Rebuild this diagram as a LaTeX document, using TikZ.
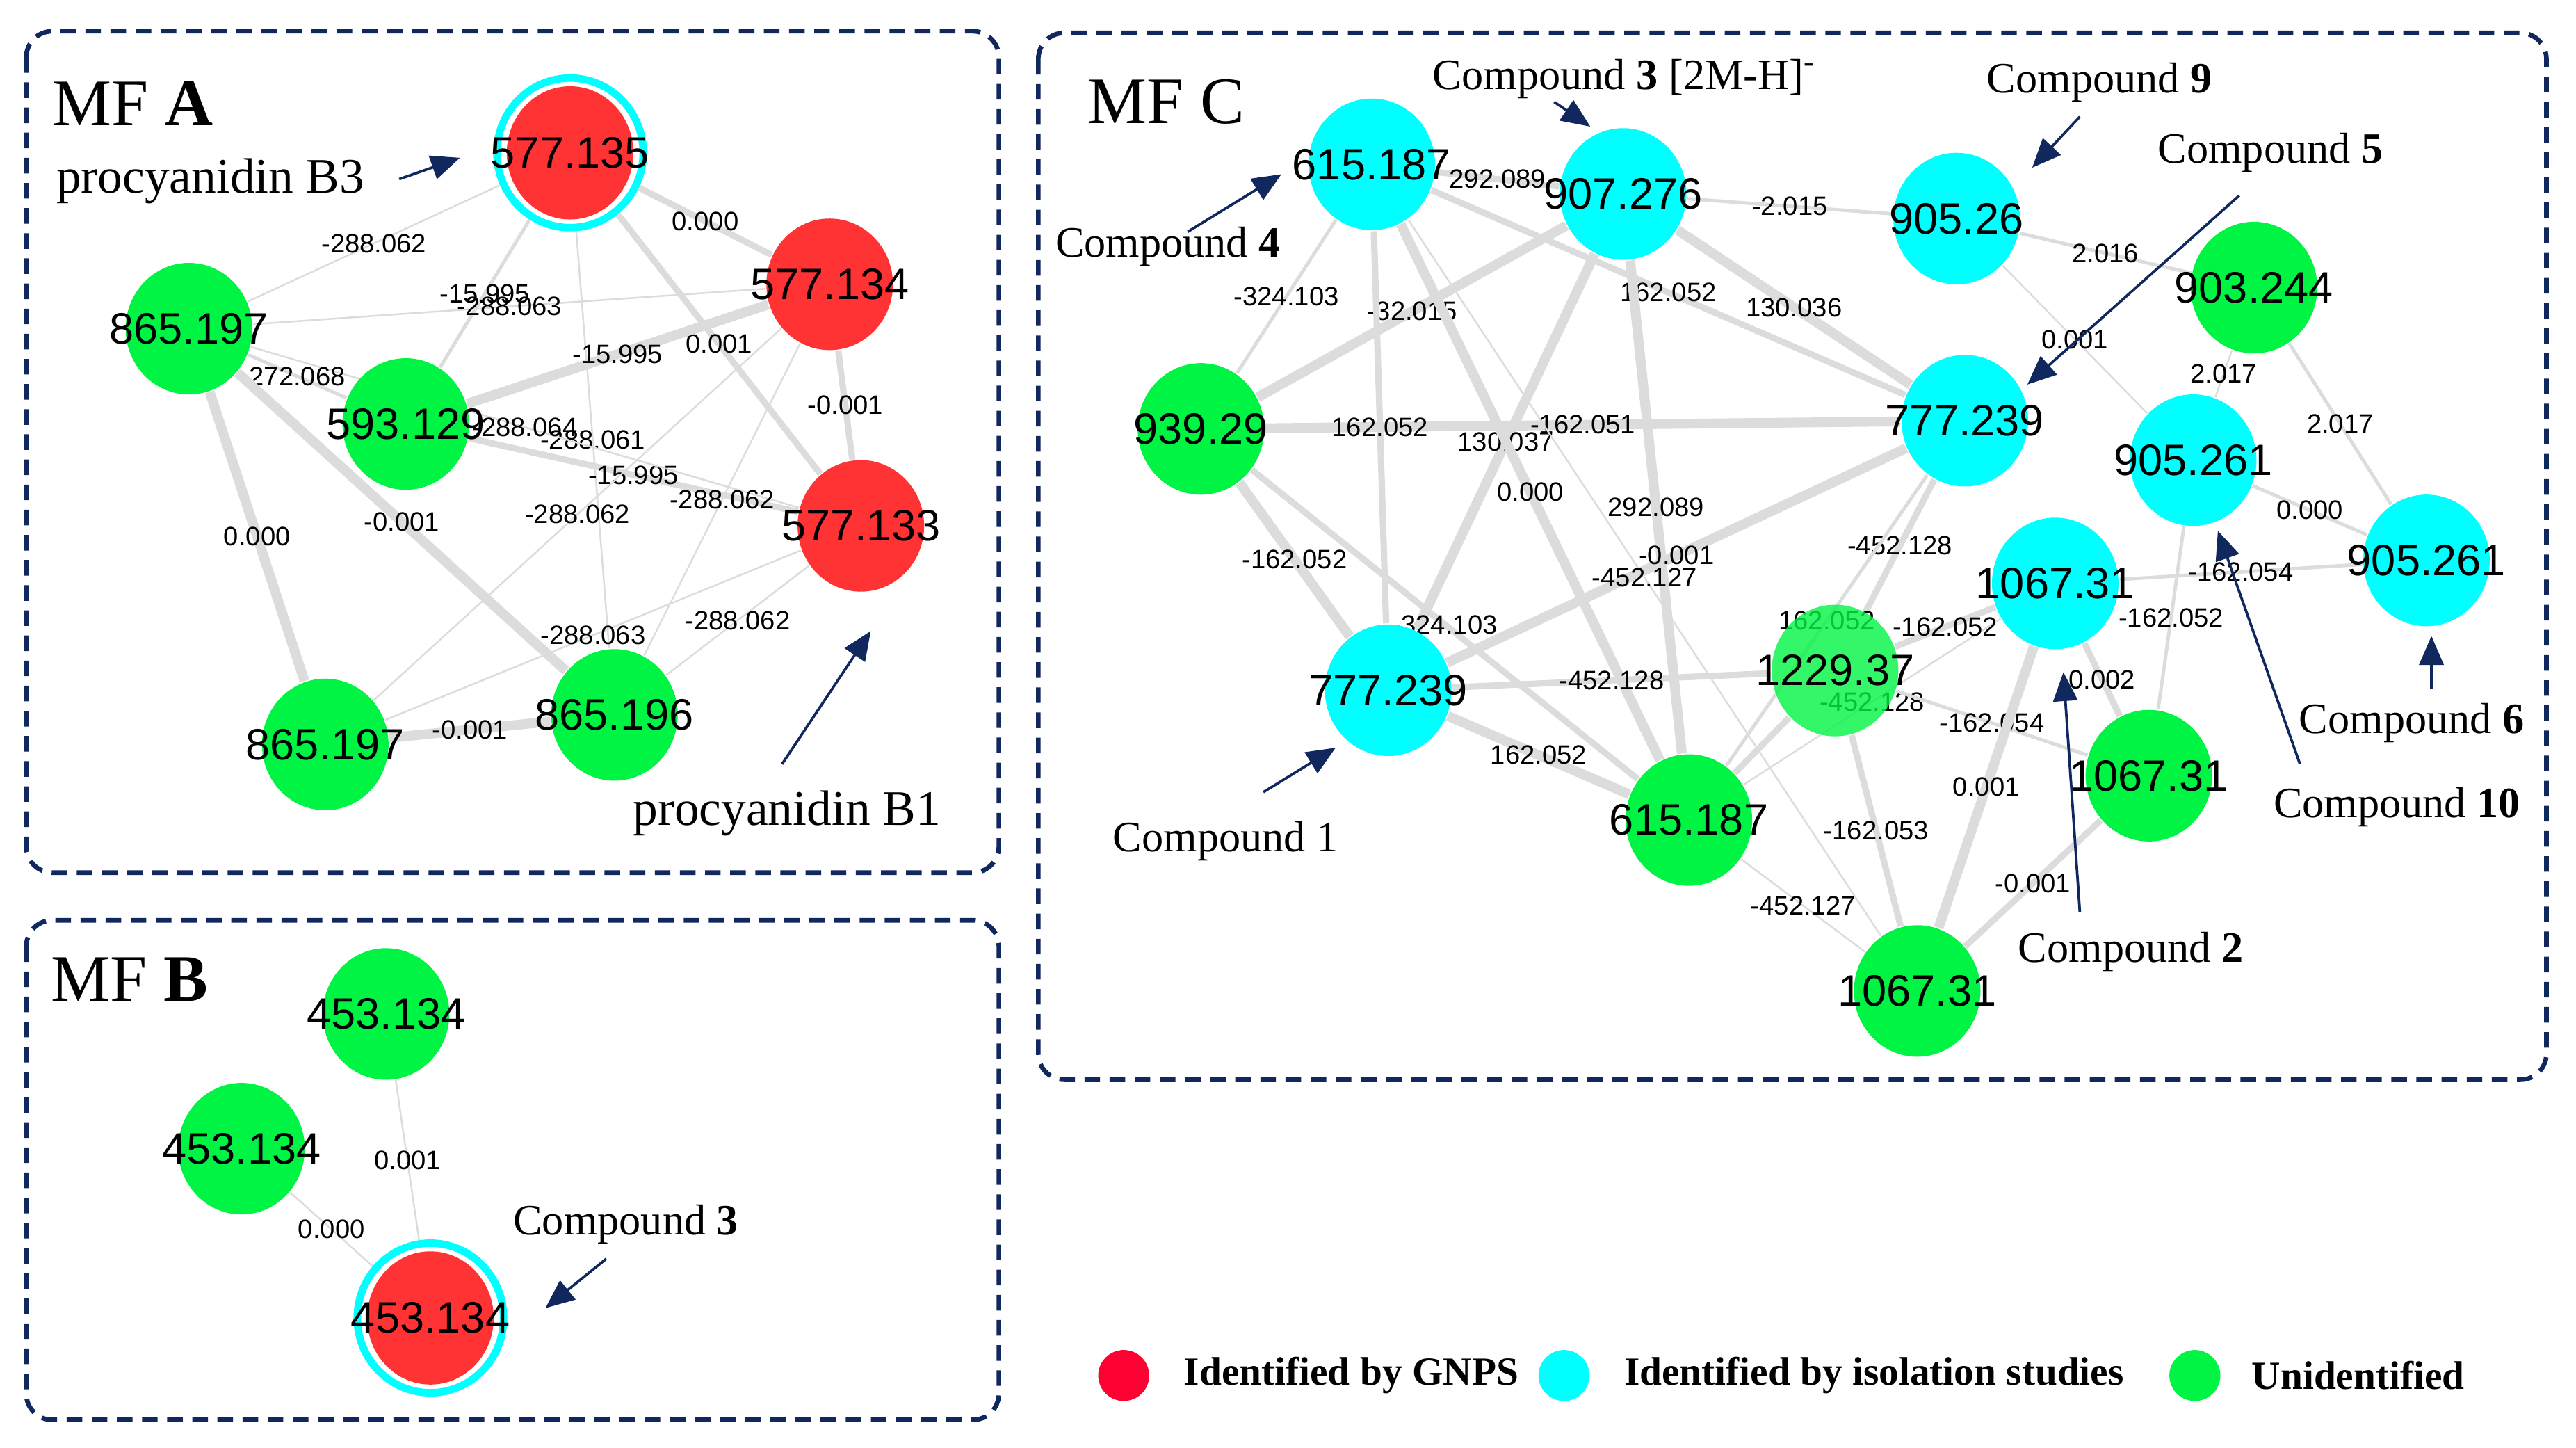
\documentclass[tikz,border=0pt]{standalone}
\usepackage{fontspec}
\setmainfont{Liberation Serif}
\newfontfamily\numfont{Liberation Sans}
\usetikzlibrary{shapes.geometric, arrows.meta, backgrounds}
\definecolor{GnpsRed}{HTML}{FF3333}
\definecolor{LegRed}{HTML}{FF0033}
\definecolor{IsoCyan}{HTML}{00FFFF}
\definecolor{UnidGreen}{HTML}{00F443}
\definecolor{EdgeGray}{HTML}{DCDCDC}
\definecolor{NavyDark}{HTML}{10285E}

\tikzset{
  mfnode/.style={ellipse, minimum width=0.77cm, minimum height=0.80cm, inner sep=0pt,
                 font=\numfont\fontsize{7.6}{8}\selectfont,
                 execute at begin node={\hbox to 0pt\bgroup\hss},
                 execute at end node={\hss\egroup}},
  unid/.style={mfnode, fill=UnidGreen},
  iso/.style={mfnode, fill=IsoCyan},
  gnps/.style={mfnode, fill=GnpsRed},
  gnpsiso/.style={mfnode, minimum width=0.89cm, minimum height=0.91cm,
                  draw=IsoCyan, line width=1.3pt, fill=white,
                  path picture={\fill[GnpsRed] (path picture bounding box.center)
                                ellipse [x radius=0.385cm, y radius=0.405cm];}},
  elabel/.style={font=\numfont\fontsize{4.6}{5}\selectfont, inner sep=0pt},
  linkhair/.style={draw=EdgeGray, line width=0.3pt},
  linkslim/.style={draw=EdgeGray, line width=0.6pt},
  linkbroad/.style={draw=EdgeGray, line width=1.1pt},
  linkheavy/.style={draw=EdgeGray, line width=1.7pt},
  pointer/.style={draw=NavyDark, line width=0.45pt, -{Triangle[length=5pt,width=4.2pt]}},
  cpdlabel/.style={font=\fontsize{7.5}{8}\selectfont, inner sep=0pt},
  pclabel/.style={font=\fontsize{8.6}{9}\selectfont, inner sep=0pt},
  mflabel/.style={font=\fontsize{11.5}{12}\selectfont, inner sep=0pt},
  mfframe/.style={draw=NavyDark, line width=0.8pt, dash pattern=on 2.7pt off 1.65pt,
                  rounded corners=4.5pt},
  legmark/.style={circle, minimum size=0.31cm, inner sep=0pt},
  legtext/.style={font=\bfseries\fontsize{6.9}{8}\selectfont, inner sep=0pt, anchor=west},
}

\begin{document}
\begin{tikzpicture}[x=0.01cm, y=-0.01cm]
\useasboundingbox (0,0) rectangle (1568,881);

% panel frames
\draw[mfframe] (16,19) rectangle (608,531);
\draw[mfframe] (16,560) rectangle (608,864);
\draw[mfframe] (632,20) rectangle (1550,657);

\node[mflabel] (mfA) at (81,63) {MF \textbf{A}};
\node[mflabel] (mfB) at (79,596) {MF \textbf{B}};
\node[mflabel] (mfC) at (710,62) {MF C};

% MF A
\node[gnpsiso] (a1) at (347,93) {577.135};
\node[gnps] (a2) at (505,173) {577.134};
\node[gnps] (a3) at (524,320) {577.133};
\node[unid] (a4) at (115,200) {865.197};
\node[unid] (a5) at (247,258) {593.129};
\node[unid] (a6) at (198,453) {865.197};
\node[unid] (a7) at (374,435) {865.196};

% MF B
\node[unid] (b1) at (235,617) {453.134};
\node[unid] (b2) at (147,699) {453.134};
\node[gnpsiso] (b3) at (262,802) {453.134};

% MF C
\node[iso] (c1) at (835,100) {615.187};
\node[iso] (c2) at (988,118) {907.276};
\node[iso] (c3) at (1191,133) {905.26};
\node[unid] (c4) at (1372,175) {903.244};
\node[unid] (c5) at (731,261) {939.29};
\node[iso] (c6) at (1196,256) {777.239};
\node[iso] (c7) at (1335,280) {905.261};
\node[iso] (c8) at (1477,341) {905.261};
\node[iso] (c9) at (1251,355) {1067.31};
\node[iso] (c10) at (845,420) {777.239};
\node[unid, fill opacity=0.8, text opacity=1] (c11) at (1117,408) {1229.37};
\node[unid] (c12) at (1028,499) {615.187};
\node[unid] (c13) at (1308,472) {1067.31};
\node[unid] (c14) at (1167,603) {1067.31};

\begin{pgfonlayer}{background}
  % MF A links
  \draw[linkbroad] (a1) -- node[elabel]{0.000} (a2);
  \draw[linkhair] (a1) -- node[elabel]{-288.062} (a4);
  \draw[linkslim] (a1) -- node[elabel]{-15.995} (a5);
  \draw[linkbroad] (a1) -- node[elabel]{0.001} (a3);
  \draw[linkhair] (a1) -- node[elabel]{-288.061} (a7);
  \draw[linkbroad] (a2) -- node[elabel]{-0.001} (a3);
  \draw[linkhair] (a4) -- node[elabel]{-288.063} (a2);
  \draw[linkheavy] (a5) -- node[elabel]{-15.995} (a2);
  \draw[linkbroad] (a5) -- node[elabel]{-15.995} (a3);
  \draw[linkhair] (a4) -- node[elabel]{-288.064} (a3);
  \draw[linkslim] (a4) -- node[elabel]{272.068} (a5);
  \draw[linkheavy] (a4) -- node[elabel]{0.000} (a6);
  \draw[linkheavy] (a4) -- node[elabel]{-0.001} (a7);
  \draw[linkheavy] (a6) -- node[elabel]{-0.001} (a7);
  \draw[linkhair] (a6) -- node[elabel]{-288.062} (a2);
  \draw[linkhair] (a7) -- node[elabel]{-288.062} (a2);
  \draw[linkhair] (a6) -- node[elabel]{-288.063} (a3);
  \draw[linkhair] (a7) -- node[elabel]{-288.062} (a3);
  % MF B links
  \draw[linkhair] (b1) -- node[elabel]{0.001} (b3);
  \draw[linkhair] (b2) -- node[elabel]{0.000} (b3);
  % MF C links
  \draw[linkbroad] (c1) -- node[elabel]{292.089} (c2);
  \draw[linkslim] (c2) -- node[elabel]{-2.015} (c3);
  \draw[linkslim] (c3) -- node[elabel]{2.016} (c4);
  \draw[linkhair] (c3) -- node[elabel]{0.001} (c7);
  \draw[linkhair] (c4) -- node[elabel]{2.017} (c7);
  \draw[linkslim] (c4) -- node[elabel]{2.017} (c8);
  \draw[linkslim] (c7) -- node[elabel]{0.000} (c8);
  \draw[linkslim] (c9) -- node[elabel]{-162.054} (c8);
  \draw[linkslim] (c1) -- node[elabel]{-324.103} (c5);
  \draw[linkheavy] (c2) -- node[elabel]{-32.015} (c5);
  \draw[linkbroad] (c1) -- node[elabel]{162.052} (c6);
  \draw[linkheavy] (c2) -- node[elabel]{130.036} (c6);
  \draw[linkheavy] (c5) -- node[elabel]{-162.051} (c6);
  \draw[linkbroad] (c1) -- node[elabel]{162.052} (c10);
  \draw[linkheavy] (c2) -- node[elabel]{130.037} (c10);
  \draw[linkheavy] (c1) -- node[elabel]{0.000} (c12);
  \draw[linkheavy] (c2) -- node[elabel]{292.089} (c12);
  \draw[linkheavy] (c6) -- node[elabel]{-0.001} (c10);
  \draw[linkhair] (c1) -- node[elabel]{-452.127} (c14);
  \draw[linkheavy] (c5) -- node[elabel]{-162.052} (c10);
  \draw[linkbroad] (c5) -- node[elabel]{-324.103} (c12);
  \draw[linkbroad] (c6) -- node[elabel]{-452.128} (c11);
  \draw[linkslim] (c6) -- node[elabel]{162.052} (c12);
  \draw[linkbroad] (c10) -- node[elabel]{-452.128} (c11);
  \draw[linkheavy] (c10) -- node[elabel]{162.052} (c12);
  \draw[linkbroad] (c11) -- (c12);
  \draw[linkhair] (c12) -- node[elabel]{-452.128} (c9);
  \draw[linkbroad] (c11) -- node[elabel]{-162.052} (c9);
  \draw[linkslim] (c7) -- node[elabel]{-162.052} (c13);
  \draw[linkbroad] (c9) -- node[elabel]{0.002} (c13);
  \draw[linkslim] (c11) -- node[elabel]{-162.054} (c13);
  \draw[linkheavy] (c9) -- node[elabel]{0.001} (c14);
  \draw[linkbroad] (c11) -- node[elabel]{-162.053} (c14);
  \draw[linkbroad] (c13) -- node[elabel]{-0.001} (c14);
  \draw[linkhair] (c12) -- node[elabel]{-452.127} (c14);
\end{pgfonlayer}

% annotations
\node[pclabel] (lblB3) at (128,110) {procyanidin B3};
\node[pclabel] (lblB1) at (479,495) {procyanidin B1};
\node[cpdlabel] (lblCpd3b) at (381,745) {Compound \textbf{3}};
\node[cpdlabel] (lblCpd3c) at (989,48) {Compound \textbf{3} [2M-H]\textsuperscript{-}};
\node[cpdlabel] (lblCpd4) at (711,150) {Compound \textbf{4}};
\node[cpdlabel] (lblCpd9) at (1278,50) {Compound \textbf{9}};
\node[cpdlabel] (lblCpd5) at (1382,93) {Compound \textbf{5}};
\node[cpdlabel] (lblCpd1) at (746,512) {Compound 1};
\node[cpdlabel] (lblCpd2) at (1297,579) {Compound \textbf{2}};
\node[cpdlabel] (lblCpd10) at (1459,491) {Compound \textbf{10}};
\node[cpdlabel] (lblCpd6) at (1468,440) {Compound \textbf{6}};

\coordinate (tailB3) at (243,109);  \coordinate (tipB3) at (280,96);
\coordinate (tailB1) at (476,465);  \coordinate (tipB1) at (530,384);
\coordinate (tail3b) at (369,766);  \coordinate (tip3b) at (332,796);
\coordinate (tail3c) at (946,62);   \coordinate (tip3c) at (968,77);
\coordinate (tail4) at (723,141);   \coordinate (tip4) at (780,106);
\coordinate (tail9) at (1266,71);   \coordinate (tip9) at (1237,102);
\coordinate (tail5) at (1363,119);  \coordinate (tip5) at (1234,234);
\coordinate (tail1) at (769,482);   \coordinate (tip1) at (813,455);
\coordinate (tail2) at (1266,555);  \coordinate (tip2) at (1256,409);
\coordinate (tail10) at (1400,465); \coordinate (tip10) at (1350,323);
\coordinate (tail6) at (1480,419);  \coordinate (tip6) at (1480,387);

\draw[pointer] (tailB3) -- (tipB3);
\draw[pointer] (tailB1) -- (tipB1);
\draw[pointer] (tail3b) -- (tip3b);
\draw[pointer] (tail3c) -- (tip3c);
\draw[pointer] (tail4) -- (tip4);
\draw[pointer] (tail9) -- (tip9);
\draw[pointer] (tail5) -- (tip5);
\draw[pointer] (tail1) -- (tip1);
\draw[pointer] (tail2) -- (tip2);
\draw[pointer] (tail10) -- (tip10);
\draw[pointer] (tail6) -- (tip6);

% legend
\node[legmark, fill=LegRed] (legGnps) at (684,837) {};
\node[legtext] (txtGnps) at (720,837) {Identified by GNPS};
\node[legmark, fill=IsoCyan] (legIso) at (952,837) {};
\node[legtext] (txtIso) at (988,837) {Identified by isolation studies};
\node[legmark, fill=UnidGreen] (legUnid) at (1336,837) {};
\node[legtext] (txtUnid) at (1370,837) {Unidentified};
\end{tikzpicture}
\end{document}
